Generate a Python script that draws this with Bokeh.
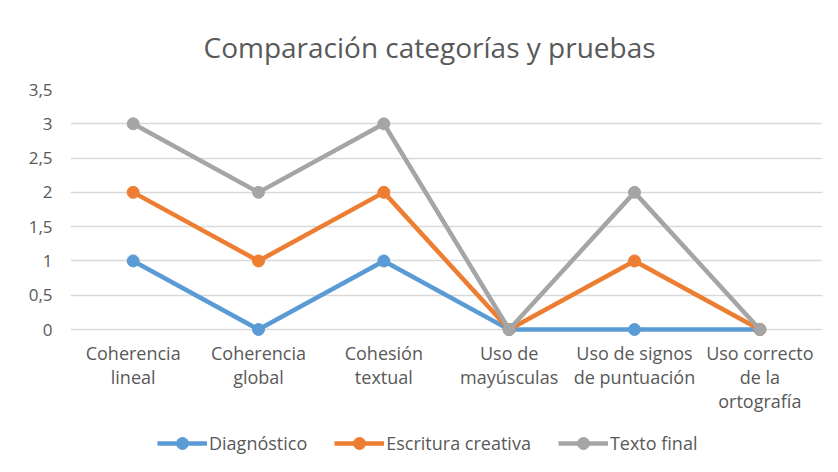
from bokeh.plotting import figure
from bokeh.models import Legend, LegendItem, FixedTicker, Title
from bokeh.embed import file_html
from bokeh.resources import INLINE

categories = ["Coherencia lineal", "Coherencia global", "Cohesión textual",
              "Uso de mayúsculas", "Uso de signos de puntuación", "Uso correcto de la ortografía"]
category_labels = ["Coherencia\nlineal", "Coherencia\nglobal", "Cohesión\ntextual",
                   "Uso de\nmayúsculas", "Uso de signos\nde puntuación", "Uso correcto\nde la\nortografía"]
diagnostico = [1, 0, 1, 0, 0, 0]
escritura = [2, 1, 2, 0, 1, 0]
texto_final = [3, 2, 3, 0, 2, 0]
series_names = ["Diagnóstico", "Escritura creativa", "Texto final"]
colors = ["#5B9BD5", "#ED7D31", "#A5A5A5"]
y_ticks = [0, 0.5, 1, 1.5, 2, 2.5, 3, 3.5]
y_labels = ["0", "0,5", "1", "1,5", "2", "2,5", "3", "3,5"]

FONT = "Open Sans"
TXT = "#595959"
Y_MIN = -2.085  # extends frame below zero to hold category labels and legend

p = figure(x_range=categories, y_range=(Y_MIN, 3.5), width=838, height=472,
           output_backend="svg", toolbar_location=None, x_axis_location=None,
           min_border_left=70, min_border_right=16, min_border_top=89, min_border_bottom=0)
p.outline_line_color = None
p.background_fill_color = "white"
p.border_fill_color = "white"

p.title = Title(text="Comparación categorías y pruebas", align="left", offset=133,
                text_font=FONT, text_font_size="28px", text_color=TXT,
                text_font_style="normal", standoff=48)

p.yaxis.ticker = FixedTicker(ticks=y_ticks)
p.yaxis.major_label_overrides = {t: l for t, l in zip(y_ticks, y_labels)}
p.yaxis.axis_line_color = None
p.yaxis.major_tick_line_color = None
p.yaxis.minor_tick_line_color = None
p.yaxis.major_label_text_font = FONT
p.yaxis.major_label_text_font_size = "17px"
p.yaxis.major_label_text_color = TXT
p.yaxis.major_label_standoff = 12

p.xgrid.grid_line_color = None
p.ygrid.grid_line_color = "#D9D9D9"
p.ygrid.grid_line_width = 1.5
p.ygrid.ticker = FixedTicker(ticks=y_ticks)

# category labels drawn as text below the zero line
p.text(x=categories, y=[-0.17] * len(categories), text=category_labels,
       text_align="center", text_baseline="top", text_font_size="18px",
       text_color=TXT, text_line_height=1.0, text_font={"value": FONT})

items = []
for name, vals, c in zip(series_names, [diagnostico, escritura, texto_final], colors):
    r1 = p.line(categories, vals, line_color=c, line_width=4.5)
    r2 = p.scatter(categories, vals, size=12, fill_color=c, line_color=c)
    items.append(LegendItem(label=name, renderers=[r1, r2]))

legend = Legend(items=items, orientation="horizontal", location=(87, 14),
                label_text_font=FONT, label_text_font_size="18px", label_text_color=TXT,
                glyph_width=50, glyph_height=30, label_height=30, spacing=27, label_standoff=2,
                border_line_color=None, background_fill_alpha=0, padding=0, margin=0)
p.add_layout(legend, "center")

open("out.html", "w").write(file_html(p, INLINE))
